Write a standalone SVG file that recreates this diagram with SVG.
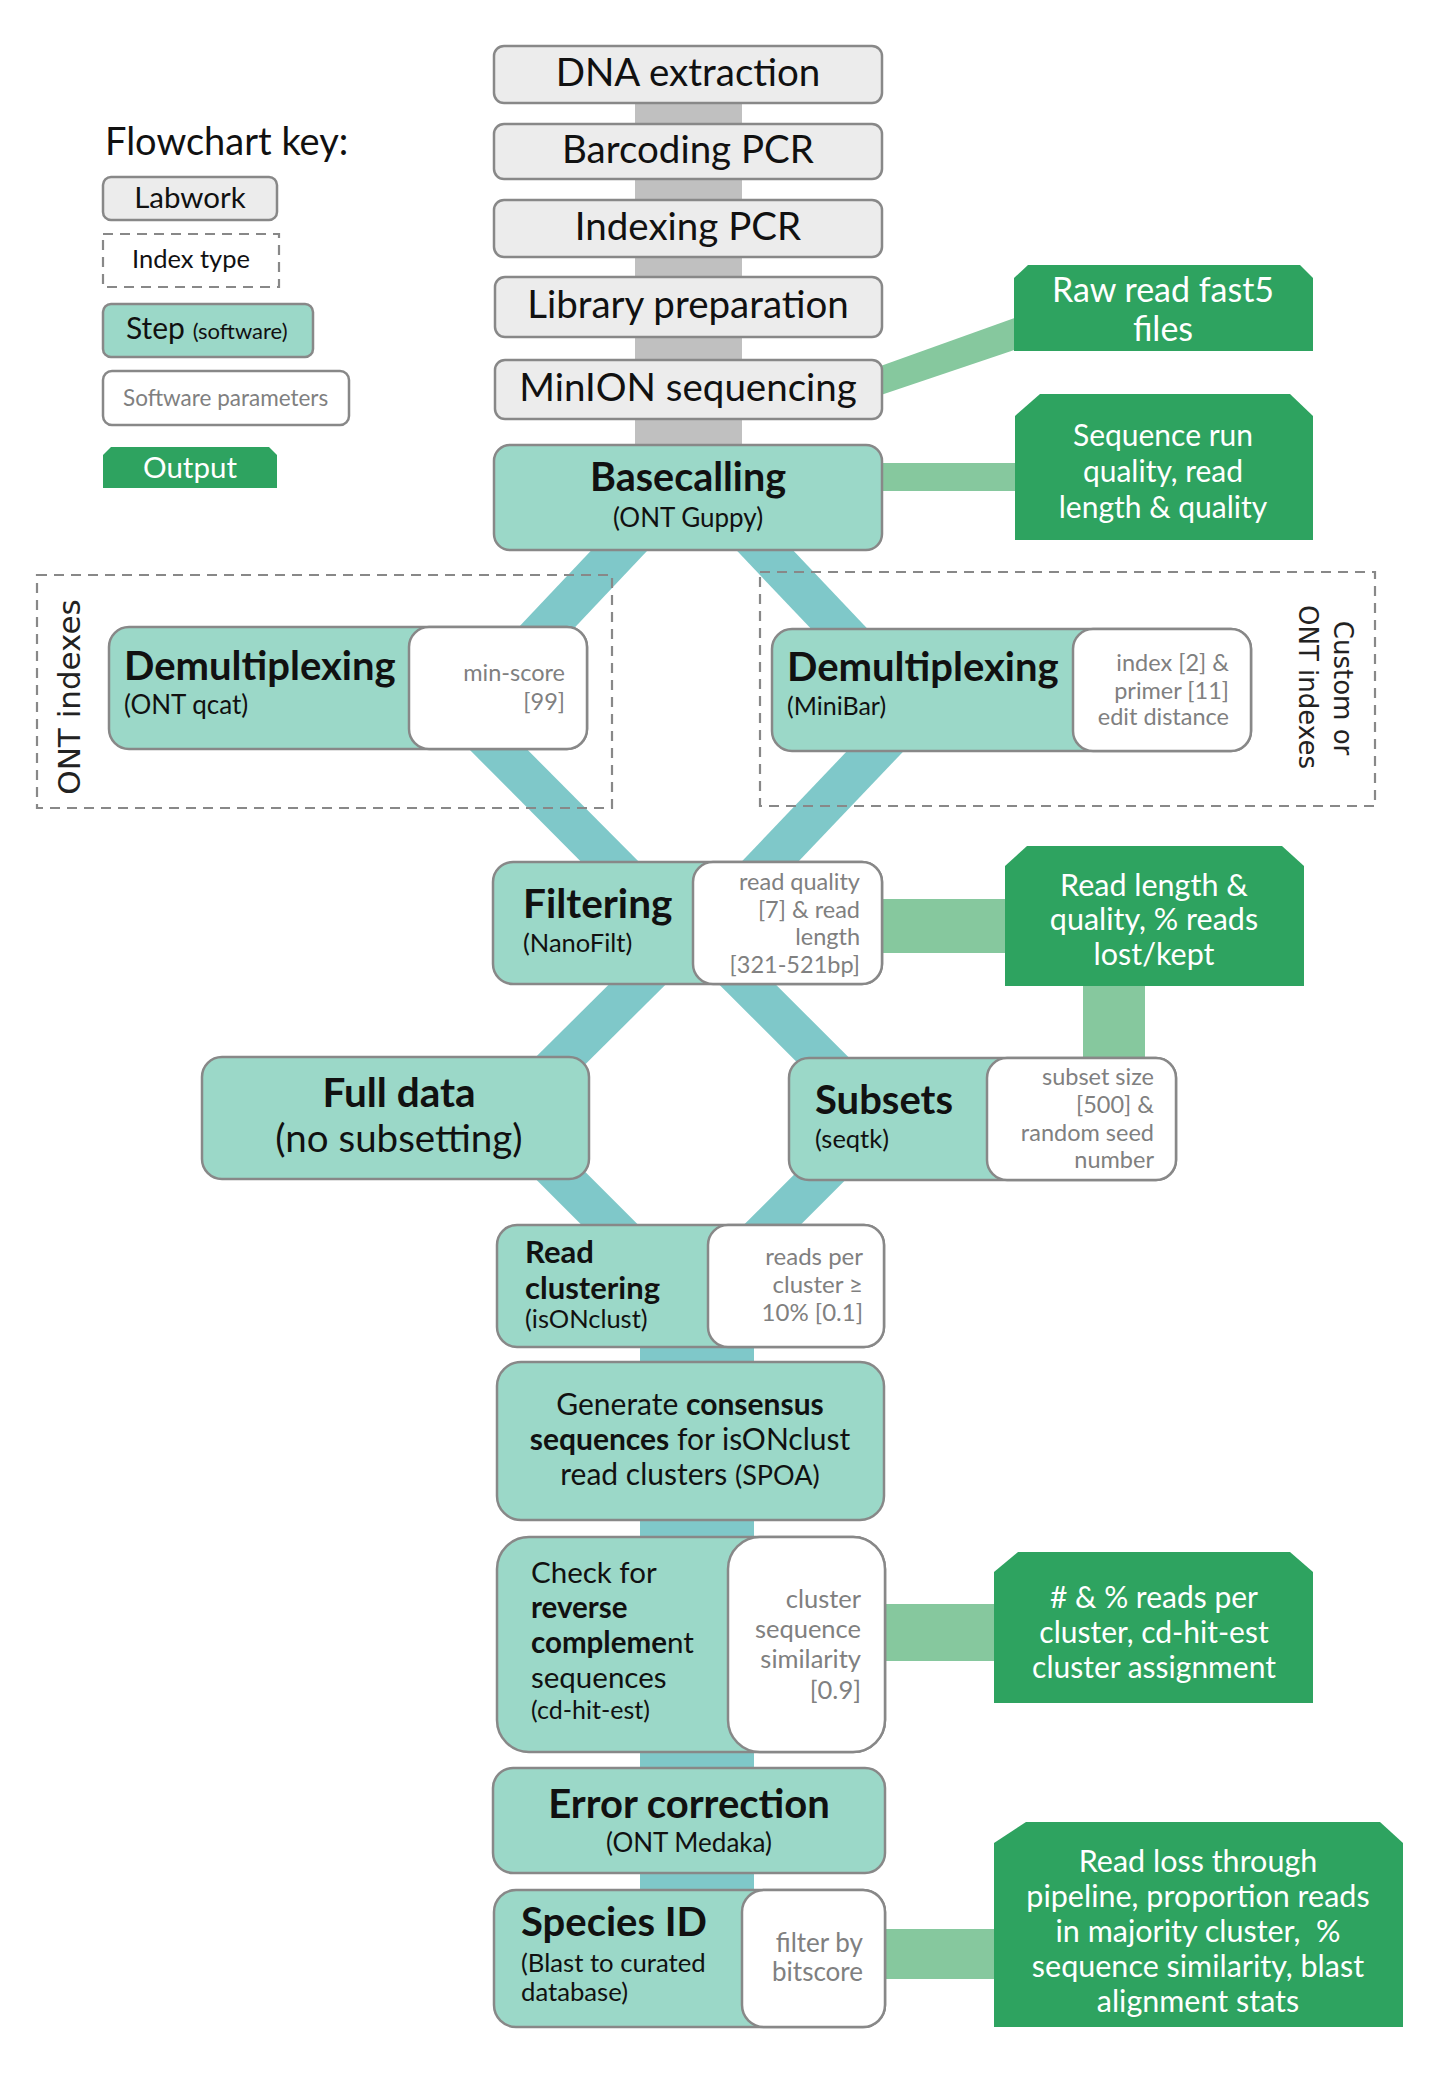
<svg xmlns="http://www.w3.org/2000/svg" width="1447" height="2077" viewBox="0 0 1447 2077">
<style>
.lab{fill:#ececec;stroke:#888;stroke-width:2.5}
.step{fill:#9bd8c8;stroke:#888;stroke-width:2.5}
.par{fill:#fff;stroke:#888;stroke-width:2.5}
.out{fill:#2ea360}
.dash{fill:none;stroke:#888;stroke-width:2.2;stroke-dasharray:10 7}
.gb{fill:#86c89e}
.tb{stroke:#7fc8c9;fill:none;stroke-linecap:butt}
.t{font-family:Lato,'Noto Sans',sans-serif;fill:#111}
.b{font-weight:bold}
.c{text-anchor:middle}
.p{font-family:Lato,'Noto Sans',sans-serif;fill:#808080;font-size:23.5px;text-anchor:end}
.o{font-family:Lato,'Noto Sans',sans-serif;fill:#fff;font-size:30px;text-anchor:middle}
.v{font-family:'DejaVu Sans',sans-serif;fill:#222;text-anchor:middle}
</style>
<rect width="1447" height="2077" fill="#fff"/>

<g id="connectors">
  <rect x="635" y="100" width="107" height="350" fill="#c0c0c0"/>
  <polygon class="gb" points="875,368 1020,316 1020,348 875,397"/>
  <rect class="gb" x="875" y="463" width="145" height="28"/>
  <line class="tb" stroke-width="41" x1="667" y1="500" x2="516" y2="660"/>
  <line class="tb" stroke-width="41" x1="717" y1="500" x2="868" y2="659"/>
  <line class="tb" stroke-width="41" x1="468" y1="719" x2="640" y2="892"/>
  <line class="tb" stroke-width="41" x1="904" y1="721" x2="742" y2="891"/>
  <rect class="gb" x="875" y="899" width="135" height="54"/>
  <rect class="gb" x="1083" y="980" width="62" height="84"/>
  <line class="tb" stroke-width="40" x1="668" y1="954" x2="534" y2="1087"/>
  <line class="tb" stroke-width="40" x1="717" y1="954" x2="851" y2="1088"/>
  <line class="tb" stroke-width="40" x1="545" y1="1160" x2="630" y2="1245"/>
  <line class="tb" stroke-width="40" x1="836" y1="1161" x2="751" y2="1246"/>
  <rect x="640" y="1340" width="114" height="555" fill="#7fc8c9"/>
  <rect class="gb" x="880" y="1604" width="120" height="57"/>
  <rect class="gb" x="880" y="1929" width="120" height="50"/>
</g>

<g id="legend">
  <text class="t" x="105" y="155" font-size="38">Flowchart key:</text>
  <rect class="lab" x="103" y="177" width="174" height="43" rx="8"/>
  <text class="t c" x="190" y="208" font-size="29.5">Labwork</text>
  <rect class="dash" x="103" y="234" width="176" height="53"/>
  <text class="t c" x="191" y="268" font-size="25.5">Index type</text>
  <rect class="step" x="103" y="304" width="210" height="53" rx="8"/>
  <text class="t" x="126" y="339" font-size="30">Step <tspan font-size="22">(software)</tspan></text>
  <rect class="par" x="103" y="371" width="246" height="54" rx="9"/>
  <text class="t" x="123" y="406" font-size="22.5" style="fill:#808080">Software parameters</text>
  <path class="out" d="M103,455 L111,447 L269,447 L277,455 L277,488 L103,488 Z"/>
  <text class="o" x="190" y="478" style="font-size:29.5px">Output</text>
</g>

<g id="dna-extraction">
  <rect class="lab" x="494" y="46" width="388" height="57" rx="10"/>
  <text class="t c" x="688" y="86" font-size="38.5">DNA extraction</text>
</g>
<g id="barcoding-pcr">
  <rect class="lab" x="494" y="124" width="388" height="55" rx="10"/>
  <text class="t c" x="688" y="163" font-size="38.5">Barcoding PCR</text>
</g>
<g id="indexing-pcr">
  <rect class="lab" x="494" y="200" width="388" height="57" rx="10"/>
  <text class="t c" x="688" y="240" font-size="38.5">Indexing PCR</text>
</g>
<g id="library-preparation">
  <rect class="lab" x="495" y="277" width="387" height="60" rx="10"/>
  <text class="t c" x="688" y="318" font-size="38.5">Library preparation</text>
</g>
<g id="minion-sequencing">
  <rect class="lab" x="495" y="360" width="387" height="59" rx="10"/>
  <text class="t c" x="688" y="401" font-size="38.5">MinION sequencing</text>
</g>

<g id="raw-read-output">
  <path class="out" d="M1014,278 L1028,265 L1300,265 L1313,278 L1313,351 L1014,351 Z"/>
  <text class="o" x="1163" y="302" style="font-size:34px">Raw read fast5</text>
  <text class="o" x="1163" y="341" style="font-size:34px">files</text>
</g>

<g id="basecalling">
  <rect class="step" x="494" y="445" width="388" height="105" rx="16"/>
  <text class="t c b" x="688" y="491" font-size="39.5">Basecalling</text>
  <text class="t c" x="688" y="527" font-size="26">(ONT Guppy)</text>
</g>

<g id="sequence-run-output">
  <path class="out" d="M1015,416 L1040,394 L1290,394 L1313,416 L1313,540 L1015,540 Z"/>
  <text class="o" x="1163" y="446">Sequence run</text>
  <text class="o" x="1163" y="482">quality, read</text>
  <text class="o" x="1163" y="518">length &amp; quality</text>
</g>

<g id="ont-indexes">
  <rect class="dash" x="37" y="575" width="575" height="233"/>
  <text class="v" transform="translate(80,697) rotate(-90)" font-size="31">ONT indexes</text>
</g>
<g id="custom-indexes">
  <rect class="dash" x="760" y="572" width="615" height="234"/>
  <text class="v" transform="translate(1334,688) rotate(90)" font-size="26">Custom or</text>
  <text class="v" transform="translate(1299,687) rotate(90)" font-size="26">ONT indexes</text>
</g>

<g id="demux-qcat">
  <rect class="step" x="109" y="627" width="478" height="122" rx="20"/>
  <rect class="par" x="409" y="627" width="178" height="122" rx="20"/>
  <text class="t b" x="124" y="680" font-size="40">Demultiplexing</text>
  <text class="t" x="124" y="714" font-size="26">(ONT qcat)</text>
  <text class="p" x="565" y="681">min-score</text>
  <text class="p" x="565" y="710">[99]</text>
</g>

<g id="demux-minibar">
  <rect class="step" x="772" y="629" width="479" height="122" rx="20"/>
  <rect class="par" x="1073" y="629" width="178" height="122" rx="20"/>
  <text class="t b" x="787" y="681" font-size="40">Demultiplexing</text>
  <text class="t" x="787" y="715" font-size="25">(MiniBar)</text>
  <text class="p" x="1229" y="671">index [2] &amp;</text>
  <text class="p" x="1229" y="699">primer [11]</text>
  <text class="p" x="1229" y="725">edit distance</text>
</g>

<g id="filtering">
  <rect class="step" x="493" y="862" width="389" height="122" rx="20"/>
  <rect class="par" x="693" y="862" width="189" height="122" rx="20"/>
  <text class="t b" x="523" y="918" font-size="40.5">Filtering</text>
  <text class="t" x="523" y="952" font-size="25.5">(NanoFilt)</text>
  <text class="p" x="860" y="890">read quality</text>
  <text class="p" x="860" y="918">[7] &amp; read</text>
  <text class="p" x="860" y="945">length</text>
  <text class="p" x="860" y="973">[321-521bp]</text>
</g>

<g id="read-length-output">
  <path class="out" d="M1005,866 L1027,846 L1282,846 L1304,866 L1304,986 L1005,986 Z"/>
  <text class="o" x="1154" y="896" style="font-size:30.5px">Read length &amp;</text>
  <text class="o" x="1154" y="930" style="font-size:30.5px">quality, % reads</text>
  <text class="o" x="1154" y="965" style="font-size:30.5px">lost/kept</text>
</g>

<g id="full-data">
  <rect class="step" x="202" y="1057" width="387" height="122" rx="20"/>
  <text class="t c b" x="399" y="1107" font-size="40.5">Full data</text>
  <text class="t c" x="399" y="1152" font-size="38.5">(no subsetting)</text>
</g>

<g id="subsets">
  <rect class="step" x="789" y="1058" width="387" height="122" rx="20"/>
  <rect class="par" x="987" y="1058" width="189" height="122" rx="20"/>
  <text class="t b" x="815" y="1114" font-size="40">Subsets</text>
  <text class="t" x="815" y="1148" font-size="25.5">(seqtk)</text>
  <text class="p" x="1154" y="1085">subset size</text>
  <text class="p" x="1154" y="1113">[500] &amp;</text>
  <text class="p" x="1154" y="1141">random seed</text>
  <text class="p" x="1154" y="1168">number</text>
</g>

<g id="read-clustering">
  <rect class="step" x="497" y="1225" width="387" height="122" rx="20"/>
  <rect class="par" x="708" y="1225" width="176" height="122" rx="20"/>
  <text class="t b" x="525" y="1263" font-size="31">Read</text>
  <text class="t b" x="525" y="1299" font-size="31">clustering</text>
  <text class="t" x="525" y="1328" font-size="25.5">(isONclust)</text>
  <text class="p" x="863" y="1265" style="font-size:24px">reads per</text>
  <text class="p" x="863" y="1293" style="font-size:24px">cluster ≥</text>
  <text class="p" x="863" y="1321" style="font-size:24px">10% [0.1]</text>
</g>

<g id="consensus">
  <rect class="step" x="497" y="1362" width="387" height="158" rx="24"/>
  <text class="t c" x="690" y="1415" font-size="30">Generate <tspan class="b">consensus</tspan></text>
  <text class="t c" x="690" y="1450" font-size="30"><tspan class="b">sequences</tspan> for isONclust</text>
  <text class="t c" x="690" y="1485" font-size="30">read clusters <tspan font-size="27">(SPOA)</tspan></text>
</g>

<g id="reverse-complement">
  <rect class="step" x="497" y="1537" width="388" height="215" rx="32"/>
  <rect class="par" x="728" y="1537" width="157" height="215" rx="32"/>
  <text class="t" x="531" y="1583" font-size="29.5">Check for</text>
  <text class="t b" x="531" y="1618" font-size="29.5">reverse</text>
  <text class="t" x="531" y="1653" font-size="29.5"><tspan class="b">compleme</tspan>nt</text>
  <text class="t" x="531" y="1688" font-size="29.5">sequences</text>
  <text class="t" x="531" y="1719" font-size="25">(cd-hit-est)</text>
  <text class="p" x="861" y="1608" style="font-size:25.5px">cluster</text>
  <text class="p" x="861" y="1638" style="font-size:25.5px">sequence</text>
  <text class="p" x="861" y="1668" style="font-size:25.5px">similarity</text>
  <text class="p" x="861" y="1699" style="font-size:25.5px">[0.9]</text>
</g>

<g id="cluster-output">
  <path class="out" d="M994,1572 L1018,1552 L1290,1552 L1313,1572 L1313,1703 L994,1703 Z"/>
  <text class="o" x="1154" y="1608"># &amp; % reads per</text>
  <text class="o" x="1154" y="1643">cluster, cd-hit-est</text>
  <text class="o" x="1154" y="1678">cluster assignment</text>
</g>

<g id="error-correction">
  <rect class="step" x="493" y="1768" width="392" height="105" rx="20"/>
  <text class="t c b" x="689" y="1818" font-size="40">Error correction</text>
  <text class="t c" x="689" y="1852" font-size="26">(ONT Medaka)</text>
</g>

<g id="species-id">
  <rect class="step" x="494" y="1890" width="391" height="137" rx="22"/>
  <rect class="par" x="742" y="1890" width="143" height="137" rx="22"/>
  <text class="t b" x="521" y="1936" font-size="40">Species ID</text>
  <text class="t" x="521" y="1972" font-size="25.7">(Blast to curated</text>
  <text class="t" x="521" y="2001" font-size="25.7">database)</text>
  <text class="p" x="863" y="1952" style="font-size:26px">filter by</text>
  <text class="p" x="863" y="1981" style="font-size:26px">bitscore</text>
</g>

<g id="read-loss-output">
  <path class="out" d="M994,1843 L1026,1822 L1380,1822 L1403,1843 L1403,2027 L994,2027 Z"/>
  <text class="o" x="1198" y="1872" style="font-size:30.5px">Read loss through</text>
  <text class="o" x="1198" y="1907" style="font-size:30.5px">pipeline, proportion reads</text>
  <text class="o" x="1198" y="1942" style="font-size:30.5px" xml:space="preserve">in majority cluster,  %</text>
  <text class="o" x="1198" y="1977" style="font-size:30.5px">sequence similarity, blast</text>
  <text class="o" x="1198" y="2012" style="font-size:30.5px">alignment stats</text>
</g>
</svg>
